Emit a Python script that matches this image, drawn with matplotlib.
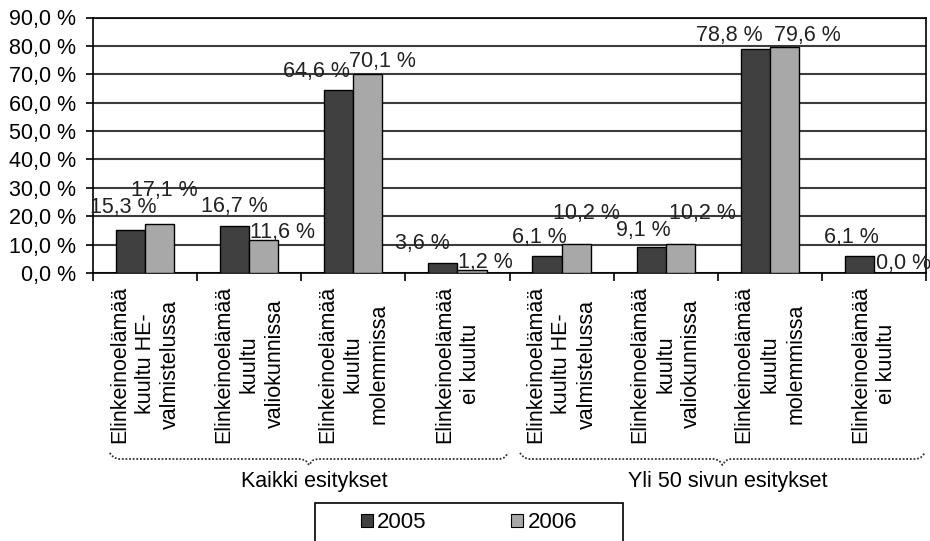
import matplotlib
matplotlib.use("Agg")
import matplotlib.pyplot as plt
from matplotlib.patches import Patch, Rectangle
from matplotlib.transforms import blended_transform_factory
import numpy as np

# ---- data ----
categories = [
    "Elinkeinoelämää\nkuultu HE-\nvalmistelussa",
    "Elinkeinoelämää\nkuultu\nvaliokunnissa",
    "Elinkeinoelämää\nkuultu\nmolemmissa",
    "Elinkeinoelämää\nei kuultu",
    "Elinkeinoelämää\nkuultu HE-\nvalmistelussa",
    "Elinkeinoelämää\nkuultu\nvaliokunnissa",
    "Elinkeinoelämää\nkuultu\nmolemmissa",
    "Elinkeinoelämää\nei kuultu",
]
values_2005 = [15.3, 16.7, 64.6, 3.6, 6.1, 9.1, 78.8, 6.1]
values_2006 = [17.1, 11.6, 70.1, 1.2, 10.2, 10.2, 79.6, 0.0]
series_labels = ["2005", "2006"]
groups = ["Kaikki esitykset", "Yli 50 sivun esitykset"]
y_ticks = [0, 10, 20, 30, 40, 50, 60, 70, 80, 90]

# ---- style ----
FONT = "Liberation Sans"
plt.rcParams["font.family"] = [FONT, "DejaVu Sans"]
FS = 15.5
DARK = "#404040"
LIGHT = "#a8a8a8"
GRID = "#3c3c3c"

# label nudges (pixels) relative to the top centre of each bar
off_2005 = [(-7, -22), (0, -19), (-22, -18), (-20, -19), (-8, -18), (-8, -17), (-26, -14), (-8, -18)]
off_2006 = [(5, -34), (19, -8), (15, -12), (13, -7), (10, -31), (22, -31), (23, -12), (15, -10)]

W, H = 930, 541
fig = plt.figure(figsize=(W / 100, H / 100), dpi=100)
ax_l, ax_r, ax_t, ax_b = 93, 926, 17.5, 273
ax = fig.add_axes([ax_l / W, 1 - ax_b / H, (ax_r - ax_l) / W, (ax_b - ax_t) / H])

x = np.arange(len(categories))
bw = 0.28
b1 = ax.bar(x - bw / 2, values_2005, bw, color=DARK, edgecolor="black", linewidth=1.0, zorder=3)
b2 = ax.bar(x + bw / 2, values_2006, bw, color=LIGHT, edgecolor="black", linewidth=1.0, zorder=3)

ax.set_xlim(-0.5, len(categories) - 0.5)
ax.set_ylim(0, 90)

ax.set_yticks(y_ticks)
ax.set_yticklabels([f"{v:.1f} %".replace(".", ",") for v in y_ticks], fontsize=FS)
ax.yaxis.grid(True, color=GRID, linewidth=1.5, zorder=0)
ax.set_axisbelow(True)
ax.tick_params(axis="y", direction="out", length=5, width=1.2, pad=7, color="black")

ax.set_xticks(x)
ax.set_xticklabels(categories, rotation=90, fontsize=FS, linespacing=1.3,
                   multialignment="center", va="top", ha="center")
ax.set_xticks(np.arange(-0.5, len(categories) + 0.5, 1), minor=True)
ax.tick_params(axis="x", which="major", length=0, pad=9)
ax.tick_params(axis="x", which="minor", direction="out", length=6, width=1.2, color="black")

for s in ax.spines.values():
    s.set_color("black")
    s.set_linewidth(1.2)

# value labels
for bars, vals, offs in ((b1, values_2005, off_2005), (b2, values_2006, off_2006)):
    for rect, v, (dx, dy) in zip(bars, vals, offs):
        ax.annotate(f"{v:.1f} %".replace(".", ","),
                    (rect.get_x() + rect.get_width() / 2, rect.get_height()),
                    xytext=(dx * 0.72, -dy * 0.72), textcoords="offset points",
                    ha="center", va="center", fontsize=FS, color="#222222", zorder=5)

# group braces and titles below the category labels
tr = blended_transform_factory(ax.transData, ax.transAxes)
def yfrac(py):
    return (ax_b - py) / (ax_b - ax_t)

def brace(x0, x1):
    xm = (x0 + x1) / 2
    e = 0.08
    xs = [x0, x0 + e * 0.5, x0 + e, xm - e, xm - e * 0.4, xm, xm + e * 0.4, xm + e, x1 - e, x1 - e * 0.5, x1]
    ys = [453, 457.5, 459, 459, 460.5, 465, 460.5, 459, 459, 457.5, 453]
    ax.plot(xs, [yfrac(v) for v in ys], transform=tr, clip_on=False,
            color="#333333", linestyle=(0, (1, 1)), linewidth=1.3)
    return xm

for (x0, x1), name in zip([(-0.34, 3.49), (3.60, 7.49)], groups):
    xm = brace(x0, x1)
    ax.text(xm + 0.05, yfrac(482), name, transform=tr, ha="center", va="center", fontsize=FS)

# legend with a frame that runs past the lower edge
handles = [Patch(facecolor=DARK, edgecolor="black", linewidth=0.8),
           Patch(facecolor=LIGHT, edgecolor="black", linewidth=0.8)]
fig.legend(handles, series_labels, loc="center", bbox_to_anchor=(469 / W, 1 - 523 / H),
           ncol=2, frameon=False, fontsize=16, handlelength=0.55, handleheight=0.55,
           handletextpad=0.2, columnspacing=3.8)
fig.patches.append(Rectangle((315 / W, -0.02), 308 / W, (1 - 503 / H) + 0.02,
                             transform=fig.transFigure, fill=False, edgecolor="black",
                             linewidth=1.2))

fig.savefig("out.png", dpi=100)
